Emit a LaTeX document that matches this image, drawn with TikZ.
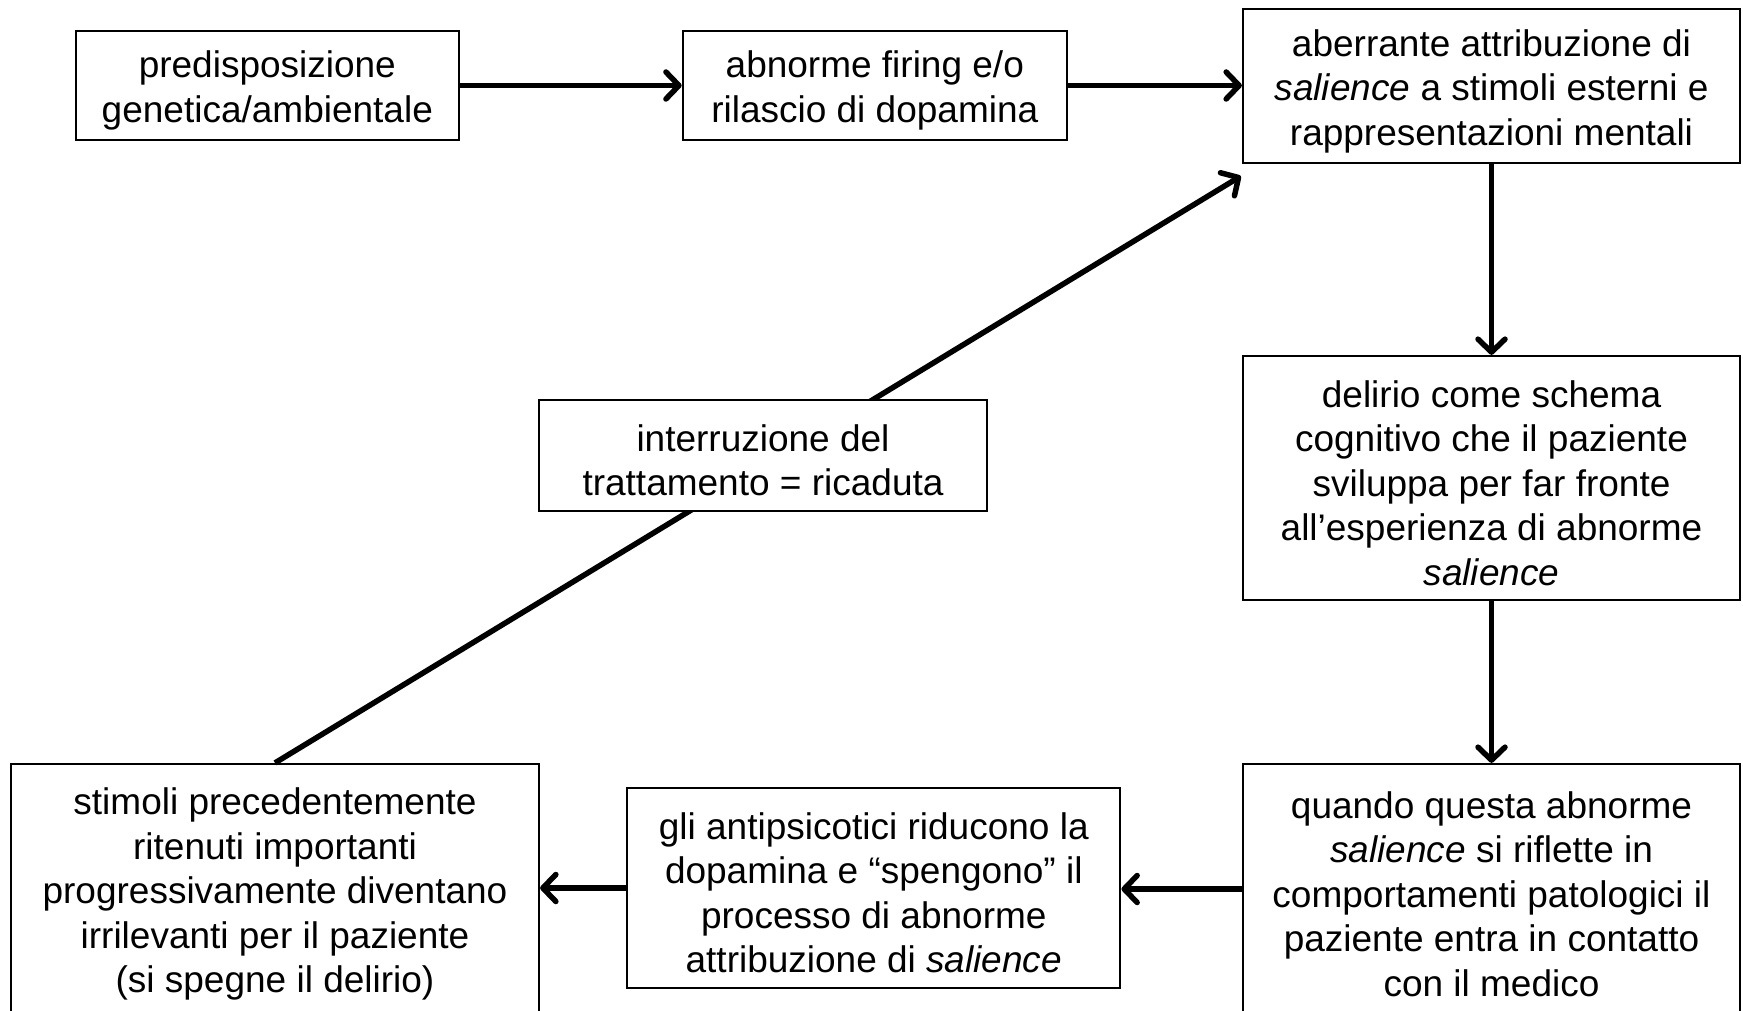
\documentclass[tikz,border=0pt]{standalone}
\usepackage{fontspec}
\setmainfont{Liberation Sans}
\usetikzlibrary{arrows.meta}

\tikzset{
  box/.style={draw=black, line width=2.2pt, fill=white, inner sep=0pt},
  boxtext/.style={align=center, inner sep=0pt, yshift=-5pt,
    font=\fontsize{37}{44.5}\selectfont},
  flow/.style={line width=5.5pt,
    -{Straight Barb[length=13pt,width=27pt,line cap=round,line join=round]}},
}

\begin{document}
\begin{tikzpicture}[x=1pt,y=-1pt]
  \useasboundingbox[fill=white] (0,0) rectangle (1743,1011);
  \clip (0,0) rectangle (1743,1011);

  % top row
  \node[box, minimum width=383pt, minimum height=109pt] (pred) at (267.3,85.5) {};
  \node[boxtext] (pred-t) at (pred.center)
    {predisposizione\\genetica/ambientale};
  \node[box, minimum width=384pt, minimum height=109pt] (firing) at (874.8,85.5) {};
  \node[boxtext] (firing-t) at (firing.center)
    {abnorme firing e/o\\rilascio di dopamina};
  \node[box, minimum width=497pt, minimum height=154pt] (aber) at (1491.5,86) {};
  \node[boxtext] (aber-t) at (aber.center)
    {aberrante attribuzione di\\\textit{salience} a stimoli esterni e\\rappresentazioni mentali};

  % right column
  \node[box, minimum width=497pt, minimum height=244pt] (delir) at (1491.5,478) {};
  \node[boxtext] (delir-t) at (delir.center)
    {delirio come schema\\cognitivo che il paziente\\sviluppa per far fronte\\all’esperienza di abnorme\\\textit{salience}};
  \node[box, minimum width=497pt, minimum height=250pt] (medico) at (1491.5,889) {};
  \node[boxtext] (medico-t) at (medico.center)
    {quando questa abnorme\\\textit{salience} si riflette in\\comportamenti patologici il\\paziente entra in contatto\\con il medico};

  % bottom row
  \node[box, minimum width=493pt, minimum height=200pt] (anti) at (873.8,888) {};
  \node[boxtext] (anti-t) at (anti.center)
    {gli antipsicotici riducono la\\dopamina e “spengono” il\\processo di abnorme\\attribuzione di \textit{salience}};
  \node[box, minimum width=528pt, minimum height=250pt] (stim) at (275,889) {};
  \node[boxtext] (stim-t) at (stim.center)
    {stimoli precedentemente\\ritenuti importanti\\progressivamente diventano\\irrilevanti per il paziente\\(si spegne il delirio)};

  % connectors
  \draw[flow] (pred.east) -- (firing.west);
  \draw[flow] (firing.east) -- (firing.east -| aber.west);
  \draw[flow] (aber.south) -- (delir.north);
  \draw[flow] (delir.south) -- (medico.north);
  \draw[flow] (medico.west) -- (medico.west -| anti.east);
  \draw[flow] (anti.west) -- (anti.west -| stim.east);

  % relapse path back to the salience box
  \coordinate (relapse) at ([xshift=-1pt,yshift=-12pt]aber.south west);
  \draw[flow] (stim.north) -- (relapse);

  % label box sitting on the relapse path
  \node[box, minimum width=448pt, minimum height=111pt] (stop) at (763,455.5) {};
  \node[boxtext] (stop-t) at (stop.center)
    {interruzione del\\trattamento = ricaduta};
\end{tikzpicture}
\end{document}
